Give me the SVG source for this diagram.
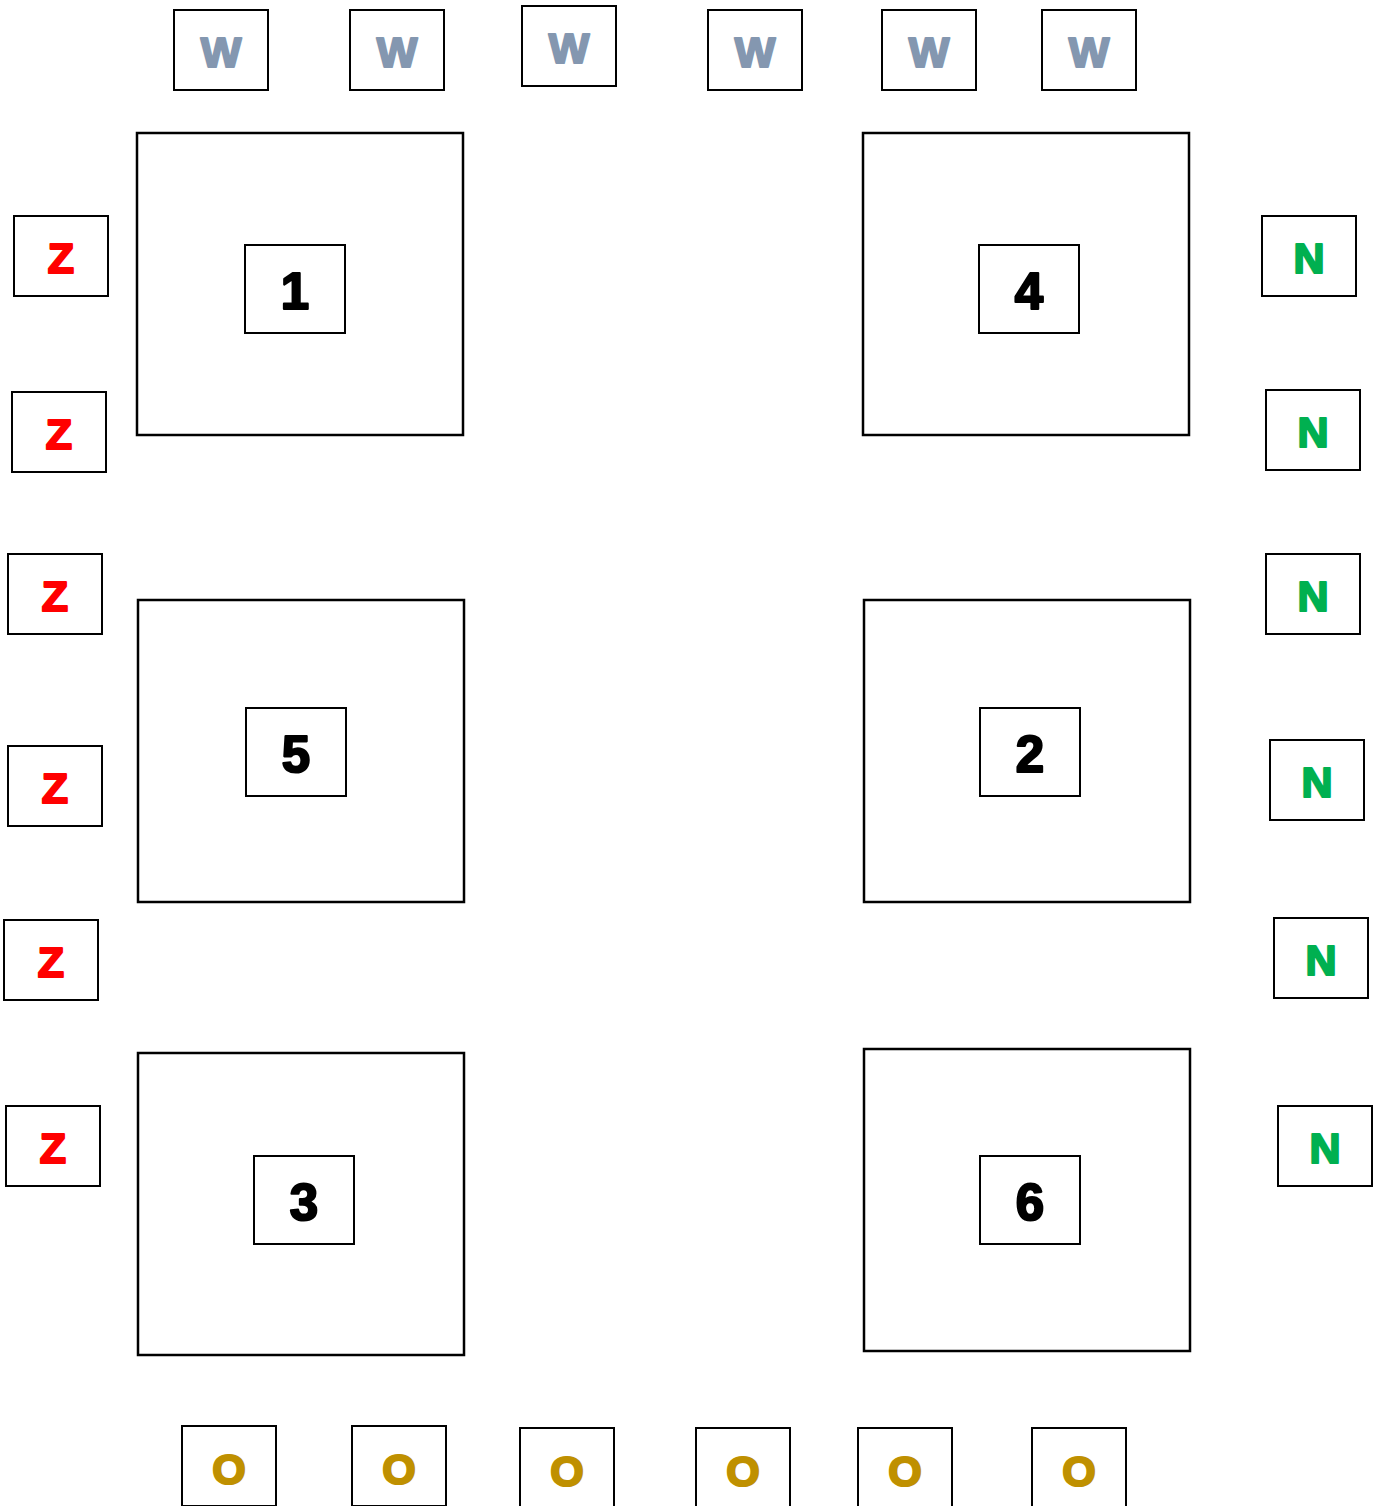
<svg xmlns="http://www.w3.org/2000/svg" width="1383" height="1506" viewBox="0 0 1383 1506">
<style>
.bg{fill:#fff}
.big{fill:#fff;stroke:#000;stroke-width:2.5}
.box{fill:#fff;stroke:#000;stroke-width:2}
.lbl{font-family:"Liberation Sans",Arial,sans-serif;font-weight:bold;font-size:43px;text-anchor:middle;stroke-width:2.2;stroke-linejoin:round}
.num{font-family:"Liberation Sans",Arial,sans-serif;font-weight:bold;font-size:51px;text-anchor:middle;fill:#000;stroke:#000;stroke-width:2.2;stroke-linejoin:round}
.w{fill:#8497B0;stroke:#8497B0}.z{fill:#FF0000;stroke:#FF0000}.n{fill:#00B050;stroke:#00B050}.o{fill:#BF9000;stroke:#BF9000}
</style>
<rect class="bg" x="0" y="0" width="1383" height="1506"/>
<g id="rooms">
<g id="room1"><rect class="big" x="137" y="133" width="326" height="302"/><rect class="box" x="245" y="245" width="100" height="88"/><text class="num" x="295" y="309">1</text></g>
<g id="room4"><rect class="big" x="863" y="133" width="326" height="302"/><rect class="box" x="979" y="245" width="100" height="88"/><text class="num" x="1029" y="309">4</text></g>
<g id="room5"><rect class="big" x="138" y="600" width="326" height="302"/><rect class="box" x="246" y="708" width="100" height="88"/><text class="num" x="296" y="772">5</text></g>
<g id="room2"><rect class="big" x="864" y="600" width="326" height="302"/><rect class="box" x="980" y="708" width="100" height="88"/><text class="num" x="1030" y="772">2</text></g>
<g id="room3"><rect class="big" x="138" y="1053" width="326" height="302"/><rect class="box" x="254" y="1156" width="100" height="88"/><text class="num" x="304" y="1220">3</text></g>
<g id="room6"><rect class="big" x="864" y="1049" width="326" height="302"/><rect class="box" x="980" y="1156" width="100" height="88"/><text class="num" x="1030" y="1220">6</text></g>
</g>
<g id="top">
<g id="w1"><rect class="box" x="174" y="10" width="94" height="80"/><text class="lbl w" x="221" y="67">W</text></g>
<g id="w2"><rect class="box" x="350" y="10" width="94" height="80"/><text class="lbl w" x="397" y="67">W</text></g>
<g id="w3"><rect class="box" x="522" y="6" width="94" height="80"/><text class="lbl w" x="569" y="63">W</text></g>
<g id="w4"><rect class="box" x="708" y="10" width="94" height="80"/><text class="lbl w" x="755" y="67">W</text></g>
<g id="w5"><rect class="box" x="882" y="10" width="94" height="80"/><text class="lbl w" x="929" y="67">W</text></g>
<g id="w6"><rect class="box" x="1042" y="10" width="94" height="80"/><text class="lbl w" x="1089" y="67">W</text></g>
</g>
<g id="left">
<g id="z1"><rect class="box" x="14" y="216" width="94" height="80"/><text class="lbl z" x="61" y="273">Z</text></g>
<g id="z2"><rect class="box" x="12" y="392" width="94" height="80"/><text class="lbl z" x="59" y="449">Z</text></g>
<g id="z3"><rect class="box" x="8" y="554" width="94" height="80"/><text class="lbl z" x="55" y="611">Z</text></g>
<g id="z4"><rect class="box" x="8" y="746" width="94" height="80"/><text class="lbl z" x="55" y="803">Z</text></g>
<g id="z5"><rect class="box" x="4" y="920" width="94" height="80"/><text class="lbl z" x="51" y="977">Z</text></g>
<g id="z6"><rect class="box" x="6" y="1106" width="94" height="80"/><text class="lbl z" x="53" y="1163">Z</text></g>
</g>
<g id="right">
<g id="n1"><rect class="box" x="1262" y="216" width="94" height="80"/><text class="lbl n" x="1309" y="273">N</text></g>
<g id="n2"><rect class="box" x="1266" y="390" width="94" height="80"/><text class="lbl n" x="1313" y="447">N</text></g>
<g id="n3"><rect class="box" x="1266" y="554" width="94" height="80"/><text class="lbl n" x="1313" y="611">N</text></g>
<g id="n4"><rect class="box" x="1270" y="740" width="94" height="80"/><text class="lbl n" x="1317" y="797">N</text></g>
<g id="n5"><rect class="box" x="1274" y="918" width="94" height="80"/><text class="lbl n" x="1321" y="975">N</text></g>
<g id="n6"><rect class="box" x="1278" y="1106" width="94" height="80"/><text class="lbl n" x="1325" y="1163">N</text></g>
</g>
<g id="bottom">
<g id="o1"><rect class="box" x="182" y="1426" width="94" height="80"/><text class="lbl o" x="229" y="1484">O</text></g>
<g id="o2"><rect class="box" x="352" y="1426" width="94" height="80"/><text class="lbl o" x="399" y="1484">O</text></g>
<g id="o3"><rect class="box" x="520" y="1428" width="94" height="80"/><text class="lbl o" x="567" y="1486">O</text></g>
<g id="o4"><rect class="box" x="696" y="1428" width="94" height="80"/><text class="lbl o" x="743" y="1486">O</text></g>
<g id="o5"><rect class="box" x="858" y="1428" width="94" height="80"/><text class="lbl o" x="905" y="1486">O</text></g>
<g id="o6"><rect class="box" x="1032" y="1428" width="94" height="80"/><text class="lbl o" x="1079" y="1486">O</text></g>
</g>
<g id="connectors"/>
</svg>
